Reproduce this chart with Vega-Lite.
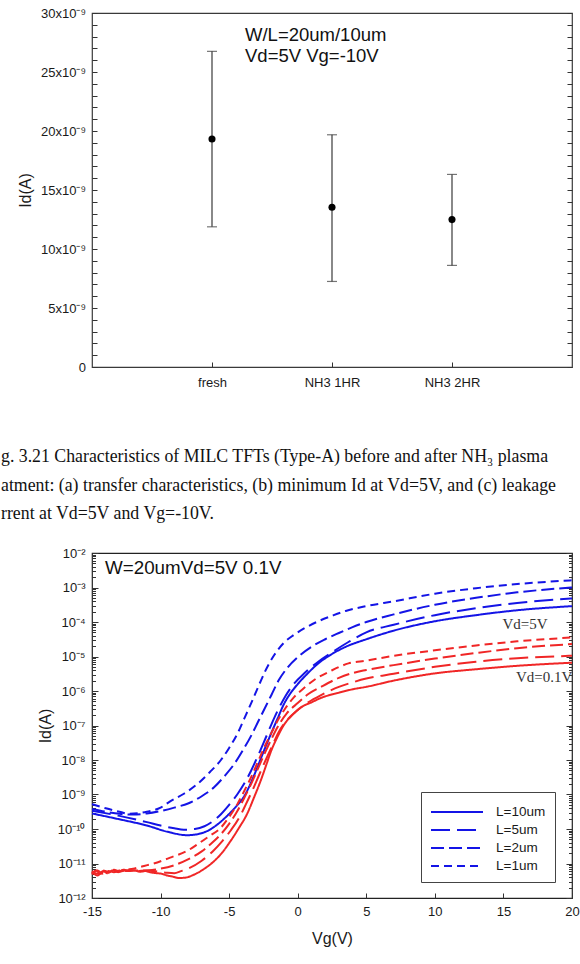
{
  "$schema": "https://vega.github.io/schema/vega-lite/v6.json",
  "background": "white",
  "padding": {"left": 0, "top": 6, "right": 0, "bottom": 0},
  "spacing": 57,
  "config": {
    "font": "Liberation Sans",
    "axis": {
      "labelFont": "Liberation Sans",
      "labelFontSize": 13,
      "labelColor": "#1a1a1a",
      "titleFont": "Liberation Sans",
      "titleFontSize": 16,
      "titleFontWeight": "normal",
      "titleColor": "#1a1a1a",
      "tickColor": "#333",
      "tickWidth": 1,
      "domain": false,
      "grid": false,
      "labelOverlap": false
    }
  },
  "datasets": {
    "leakage": [
      {"group": "fresh", "mean": 1.932e-8, "low": 1.188e-8, "high": 2.675e-8},
      {"group": "NH3 1HR", "mean": 1.354e-8, "low": 7.25e-9, "high": 1.968e-8},
      {"group": "NH3 2HR", "mean": 1.249e-8, "low": 8.61e-9, "high": 1.632e-8}
    ],
    "curves": [
      {"Vd": "5V", "L": "L=10um", "Vg": -15, "Id": 2.82e-10},
      {"Vd": "5V", "L": "L=10um", "Vg": -13, "Id": 1.91e-10},
      {"Vd": "5V", "L": "L=10um", "Vg": -11, "Id": 1.26e-10},
      {"Vd": "5V", "L": "L=10um", "Vg": -9.5, "Id": 8.32e-11},
      {"Vd": "5V", "L": "L=10um", "Vg": -8.05, "Id": 6.61e-11},
      {"Vd": "5V", "L": "L=10um", "Vg": -7.3, "Id": 7.08e-11},
      {"Vd": "5V", "L": "L=10um", "Vg": -6.6, "Id": 8.71e-11},
      {"Vd": "5V", "L": "L=10um", "Vg": -5.8, "Id": 1.41e-10},
      {"Vd": "5V", "L": "L=10um", "Vg": -5.1, "Id": 2.51e-10},
      {"Vd": "5V", "L": "L=10um", "Vg": -4.5, "Id": 4.47e-10},
      {"Vd": "5V", "L": "L=10um", "Vg": -3.9, "Id": 8.91e-10},
      {"Vd": "5V", "L": "L=10um", "Vg": -3.4, "Id": 2.24e-9},
      {"Vd": "5V", "L": "L=10um", "Vg": -2.93, "Id": 6.31e-9},
      {"Vd": "5V", "L": "L=10um", "Vg": -2.45, "Id": 1.91e-8},
      {"Vd": "5V", "L": "L=10um", "Vg": -1.95, "Id": 5.75e-8},
      {"Vd": "5V", "L": "L=10um", "Vg": -1.45, "Id": 1.66e-7},
      {"Vd": "5V", "L": "L=10um", "Vg": -0.98, "Id": 4.37e-7},
      {"Vd": "5V", "L": "L=10um", "Vg": -0.5, "Id": 8.91e-7},
      {"Vd": "5V", "L": "L=10um", "Vg": 0, "Id": 1.58e-6},
      {"Vd": "5V", "L": "L=10um", "Vg": 0.7, "Id": 3.16e-6},
      {"Vd": "5V", "L": "L=10um", "Vg": 1.5, "Id": 6.31e-6},
      {"Vd": "5V", "L": "L=10um", "Vg": 2.4, "Id": 1.12e-5},
      {"Vd": "5V", "L": "L=10um", "Vg": 3.5, "Id": 1.91e-5},
      {"Vd": "5V", "L": "L=10um", "Vg": 5, "Id": 3.16e-5},
      {"Vd": "5V", "L": "L=10um", "Vg": 7, "Id": 5.62e-5},
      {"Vd": "5V", "L": "L=10um", "Vg": 10, "Id": 1.05e-4},
      {"Vd": "5V", "L": "L=10um", "Vg": 13, "Id": 1.58e-4},
      {"Vd": "5V", "L": "L=10um", "Vg": 16, "Id": 2.19e-4},
      {"Vd": "5V", "L": "L=10um", "Vg": 20, "Id": 2.88e-4},

      {"Vd": "5V", "L": "L=5um", "Vg": -15, "Id": 3.39e-10},
      {"Vd": "5V", "L": "L=5um", "Vg": -13, "Id": 2.40e-10},
      {"Vd": "5V", "L": "L=5um", "Vg": -11, "Id": 1.58e-10},
      {"Vd": "5V", "L": "L=5um", "Vg": -10, "Id": 1.26e-10},
      {"Vd": "5V", "L": "L=5um", "Vg": -9, "Id": 1.05e-10},
      {"Vd": "5V", "L": "L=5um", "Vg": -8.3, "Id": 9.55e-11},
      {"Vd": "5V", "L": "L=5um", "Vg": -7.5, "Id": 1.00e-10},
      {"Vd": "5V", "L": "L=5um", "Vg": -6.8, "Id": 1.20e-10},
      {"Vd": "5V", "L": "L=5um", "Vg": -6.2, "Id": 1.66e-10},
      {"Vd": "5V", "L": "L=5um", "Vg": -5.6, "Id": 2.69e-10},
      {"Vd": "5V", "L": "L=5um", "Vg": -5, "Id": 5.01e-10},
      {"Vd": "5V", "L": "L=5um", "Vg": -4.4, "Id": 1.02e-9},
      {"Vd": "5V", "L": "L=5um", "Vg": -3.9, "Id": 2.09e-9},
      {"Vd": "5V", "L": "L=5um", "Vg": -3.4, "Id": 4.90e-9},
      {"Vd": "5V", "L": "L=5um", "Vg": -2.9, "Id": 1.32e-8},
      {"Vd": "5V", "L": "L=5um", "Vg": -2.4, "Id": 3.80e-8},
      {"Vd": "5V", "L": "L=5um", "Vg": -1.9, "Id": 1.12e-7},
      {"Vd": "5V", "L": "L=5um", "Vg": -1.45, "Id": 2.75e-7},
      {"Vd": "5V", "L": "L=5um", "Vg": -0.9, "Id": 7.08e-7},
      {"Vd": "5V", "L": "L=5um", "Vg": -0.25, "Id": 1.66e-6},
      {"Vd": "5V", "L": "L=5um", "Vg": 0.5, "Id": 3.31e-6},
      {"Vd": "5V", "L": "L=5um", "Vg": 1.5, "Id": 7.08e-6},
      {"Vd": "5V", "L": "L=5um", "Vg": 2.5, "Id": 1.32e-5},
      {"Vd": "5V", "L": "L=5um", "Vg": 3.7, "Id": 2.63e-5},
      {"Vd": "5V", "L": "L=5um", "Vg": 5, "Id": 5.01e-5},
      {"Vd": "5V", "L": "L=5um", "Vg": 7, "Id": 8.32e-5},
      {"Vd": "5V", "L": "L=5um", "Vg": 10, "Id": 1.58e-4},
      {"Vd": "5V", "L": "L=5um", "Vg": 13, "Id": 2.51e-4},
      {"Vd": "5V", "L": "L=5um", "Vg": 16, "Id": 3.55e-4},
      {"Vd": "5V", "L": "L=5um", "Vg": 20, "Id": 4.79e-4},

      {"Vd": "5V", "L": "L=2um", "Vg": -15, "Id": 3.80e-10},
      {"Vd": "5V", "L": "L=2um", "Vg": -14, "Id": 3.16e-10},
      {"Vd": "5V", "L": "L=2um", "Vg": -13, "Id": 2.75e-10},
      {"Vd": "5V", "L": "L=2um", "Vg": -12, "Id": 2.63e-10},
      {"Vd": "5V", "L": "L=2um", "Vg": -11, "Id": 2.82e-10},
      {"Vd": "5V", "L": "L=2um", "Vg": -10, "Id": 3.31e-10},
      {"Vd": "5V", "L": "L=2um", "Vg": -9, "Id": 4.17e-10},
      {"Vd": "5V", "L": "L=2um", "Vg": -8, "Id": 5.50e-10},
      {"Vd": "5V", "L": "L=2um", "Vg": -7, "Id": 8.91e-10},
      {"Vd": "5V", "L": "L=2um", "Vg": -6.1, "Id": 1.62e-9},
      {"Vd": "5V", "L": "L=2um", "Vg": -5.3, "Id": 3.55e-9},
      {"Vd": "5V", "L": "L=2um", "Vg": -4.6, "Id": 7.94e-9},
      {"Vd": "5V", "L": "L=2um", "Vg": -4, "Id": 1.91e-8},
      {"Vd": "5V", "L": "L=2um", "Vg": -3.4, "Id": 5.01e-8},
      {"Vd": "5V", "L": "L=2um", "Vg": -2.9, "Id": 1.26e-7},
      {"Vd": "5V", "L": "L=2um", "Vg": -2.4, "Id": 3.16e-7},
      {"Vd": "5V", "L": "L=2um", "Vg": -1.9, "Id": 7.94e-7},
      {"Vd": "5V", "L": "L=2um", "Vg": -1.4, "Id": 2.00e-6},
      {"Vd": "5V", "L": "L=2um", "Vg": -0.8, "Id": 4.47e-6},
      {"Vd": "5V", "L": "L=2um", "Vg": 0, "Id": 9.55e-6},
      {"Vd": "5V", "L": "L=2um", "Vg": 1, "Id": 1.91e-5},
      {"Vd": "5V", "L": "L=2um", "Vg": 2, "Id": 3.16e-5},
      {"Vd": "5V", "L": "L=2um", "Vg": 3, "Id": 4.79e-5},
      {"Vd": "5V", "L": "L=2um", "Vg": 4, "Id": 7.08e-5},
      {"Vd": "5V", "L": "L=2um", "Vg": 5, "Id": 1.00e-4},
      {"Vd": "5V", "L": "L=2um", "Vg": 7, "Id": 1.66e-4},
      {"Vd": "5V", "L": "L=2um", "Vg": 10, "Id": 3.16e-4},
      {"Vd": "5V", "L": "L=2um", "Vg": 13, "Id": 5.01e-4},
      {"Vd": "5V", "L": "L=2um", "Vg": 16, "Id": 7.24e-4},
      {"Vd": "5V", "L": "L=2um", "Vg": 20, "Id": 1.00e-3},

      {"Vd": "5V", "L": "L=1um", "Vg": -15, "Id": 5.25e-10},
      {"Vd": "5V", "L": "L=1um", "Vg": -14, "Id": 3.98e-10},
      {"Vd": "5V", "L": "L=1um", "Vg": -13, "Id": 3.16e-10},
      {"Vd": "5V", "L": "L=1um", "Vg": -12.3, "Id": 2.75e-10},
      {"Vd": "5V", "L": "L=1um", "Vg": -11, "Id": 3.16e-10},
      {"Vd": "5V", "L": "L=1um", "Vg": -10, "Id": 4.17e-10},
      {"Vd": "5V", "L": "L=1um", "Vg": -9.3, "Id": 6.31e-10},
      {"Vd": "5V", "L": "L=1um", "Vg": -8.3, "Id": 1.05e-9},
      {"Vd": "5V", "L": "L=1um", "Vg": -7.3, "Id": 2.04e-9},
      {"Vd": "5V", "L": "L=1um", "Vg": -6.4, "Id": 4.47e-9},
      {"Vd": "5V", "L": "L=1um", "Vg": -5.6, "Id": 1.00e-8},
      {"Vd": "5V", "L": "L=1um", "Vg": -5, "Id": 2.24e-8},
      {"Vd": "5V", "L": "L=1um", "Vg": -4.4, "Id": 5.75e-8},
      {"Vd": "5V", "L": "L=1um", "Vg": -3.9, "Id": 1.58e-7},
      {"Vd": "5V", "L": "L=1um", "Vg": -3.4, "Id": 4.37e-7},
      {"Vd": "5V", "L": "L=1um", "Vg": -2.9, "Id": 1.26e-6},
      {"Vd": "5V", "L": "L=1um", "Vg": -2.4, "Id": 3.55e-6},
      {"Vd": "5V", "L": "L=1um", "Vg": -1.7, "Id": 1.12e-5},
      {"Vd": "5V", "L": "L=1um", "Vg": -1, "Id": 2.51e-5},
      {"Vd": "5V", "L": "L=1um", "Vg": -0.3, "Id": 4.17e-5},
      {"Vd": "5V", "L": "L=1um", "Vg": 0.5, "Id": 6.61e-5},
      {"Vd": "5V", "L": "L=1um", "Vg": 1.5, "Id": 1.05e-4},
      {"Vd": "5V", "L": "L=1um", "Vg": 2.5, "Id": 1.51e-4},
      {"Vd": "5V", "L": "L=1um", "Vg": 3.5, "Id": 2.09e-4},
      {"Vd": "5V", "L": "L=1um", "Vg": 5, "Id": 2.88e-4},
      {"Vd": "5V", "L": "L=1um", "Vg": 7, "Id": 3.98e-4},
      {"Vd": "5V", "L": "L=1um", "Vg": 10, "Id": 6.61e-4},
      {"Vd": "5V", "L": "L=1um", "Vg": 13, "Id": 9.55e-4},
      {"Vd": "5V", "L": "L=1um", "Vg": 16, "Id": 1.26e-3},
      {"Vd": "5V", "L": "L=1um", "Vg": 20, "Id": 1.62e-3},

      {"Vd": "0.1V", "L": "L=10um", "Vg": -15, "Id": 4.79e-12},
      {"Vd": "0.1V", "L": "L=10um", "Vg": -14.7, "Id": 6.31e-12},
      {"Vd": "0.1V", "L": "L=10um", "Vg": -14.4, "Id": 5.01e-12},
      {"Vd": "0.1V", "L": "L=10um", "Vg": -14.1, "Id": 6.03e-12},
      {"Vd": "0.1V", "L": "L=10um", "Vg": -13.8, "Id": 5.37e-12},
      {"Vd": "0.1V", "L": "L=10um", "Vg": -13.5, "Id": 6.31e-12},
      {"Vd": "0.1V", "L": "L=10um", "Vg": -13.1, "Id": 5.62e-12},
      {"Vd": "0.1V", "L": "L=10um", "Vg": -12.7, "Id": 6.61e-12},
      {"Vd": "0.1V", "L": "L=10um", "Vg": -12.3, "Id": 6.03e-12},
      {"Vd": "0.1V", "L": "L=10um", "Vg": -11.9, "Id": 6.31e-12},
      {"Vd": "0.1V", "L": "L=10um", "Vg": -11.5, "Id": 5.75e-12},
      {"Vd": "0.1V", "L": "L=10um", "Vg": -11.1, "Id": 6.03e-12},
      {"Vd": "0.1V", "L": "L=10um", "Vg": -10.7, "Id": 5.50e-12},
      {"Vd": "0.1V", "L": "L=10um", "Vg": -10.3, "Id": 5.25e-12},
      {"Vd": "0.1V", "L": "L=10um", "Vg": -9.9, "Id": 5.01e-12},
      {"Vd": "0.1V", "L": "L=10um", "Vg": -9.5, "Id": 4.47e-12},
      {"Vd": "0.1V", "L": "L=10um", "Vg": -9.1, "Id": 4.17e-12},
      {"Vd": "0.1V", "L": "L=10um", "Vg": -8.7, "Id": 3.80e-12},
      {"Vd": "0.1V", "L": "L=10um", "Vg": -8.2, "Id": 3.89e-12},
      {"Vd": "0.1V", "L": "L=10um", "Vg": -7.6, "Id": 4.68e-12},
      {"Vd": "0.1V", "L": "L=10um", "Vg": -6.8, "Id": 7.08e-12},
      {"Vd": "0.1V", "L": "L=10um", "Vg": -6.1, "Id": 1.17e-11},
      {"Vd": "0.1V", "L": "L=10um", "Vg": -5.5, "Id": 2.09e-11},
      {"Vd": "0.1V", "L": "L=10um", "Vg": -4.9, "Id": 4.47e-11},
      {"Vd": "0.1V", "L": "L=10um", "Vg": -4.3, "Id": 1.05e-10},
      {"Vd": "0.1V", "L": "L=10um", "Vg": -3.7, "Id": 2.69e-10},
      {"Vd": "0.1V", "L": "L=10um", "Vg": -3.2, "Id": 7.94e-10},
      {"Vd": "0.1V", "L": "L=10um", "Vg": -2.7, "Id": 2.51e-9},
      {"Vd": "0.1V", "L": "L=10um", "Vg": -2.3, "Id": 7.08e-9},
      {"Vd": "0.1V", "L": "L=10um", "Vg": -1.95, "Id": 1.78e-8},
      {"Vd": "0.1V", "L": "L=10um", "Vg": -1.5, "Id": 4.47e-8},
      {"Vd": "0.1V", "L": "L=10um", "Vg": -1, "Id": 1.05e-7},
      {"Vd": "0.1V", "L": "L=10um", "Vg": -0.4, "Id": 2.00e-7},
      {"Vd": "0.1V", "L": "L=10um", "Vg": 0.3, "Id": 3.47e-7},
      {"Vd": "0.1V", "L": "L=10um", "Vg": 1, "Id": 4.68e-7},
      {"Vd": "0.1V", "L": "L=10um", "Vg": 1.7, "Id": 6.31e-7},
      {"Vd": "0.1V", "L": "L=10um", "Vg": 3, "Id": 8.91e-7},
      {"Vd": "0.1V", "L": "L=10um", "Vg": 4, "Id": 1.12e-6},
      {"Vd": "0.1V", "L": "L=10um", "Vg": 5, "Id": 1.32e-6},
      {"Vd": "0.1V", "L": "L=10um", "Vg": 7, "Id": 2.00e-6},
      {"Vd": "0.1V", "L": "L=10um", "Vg": 10, "Id": 3.24e-6},
      {"Vd": "0.1V", "L": "L=10um", "Vg": 13, "Id": 4.27e-6},
      {"Vd": "0.1V", "L": "L=10um", "Vg": 16, "Id": 5.37e-6},
      {"Vd": "0.1V", "L": "L=10um", "Vg": 20, "Id": 6.61e-6},

      {"Vd": "0.1V", "L": "L=5um", "Vg": -15, "Id": 5.62e-12},
      {"Vd": "0.1V", "L": "L=5um", "Vg": -14.6, "Id": 4.47e-12},
      {"Vd": "0.1V", "L": "L=5um", "Vg": -14.2, "Id": 6.03e-12},
      {"Vd": "0.1V", "L": "L=5um", "Vg": -13.8, "Id": 5.01e-12},
      {"Vd": "0.1V", "L": "L=5um", "Vg": -13.4, "Id": 6.61e-12},
      {"Vd": "0.1V", "L": "L=5um", "Vg": -13, "Id": 5.75e-12},
      {"Vd": "0.1V", "L": "L=5um", "Vg": -12.6, "Id": 6.31e-12},
      {"Vd": "0.1V", "L": "L=5um", "Vg": -12.2, "Id": 6.46e-12},
      {"Vd": "0.1V", "L": "L=5um", "Vg": -11.8, "Id": 5.89e-12},
      {"Vd": "0.1V", "L": "L=5um", "Vg": -11.4, "Id": 6.17e-12},
      {"Vd": "0.1V", "L": "L=5um", "Vg": -11, "Id": 6.31e-12},
      {"Vd": "0.1V", "L": "L=5um", "Vg": -10.5, "Id": 6.03e-12},
      {"Vd": "0.1V", "L": "L=5um", "Vg": -10, "Id": 5.62e-12},
      {"Vd": "0.1V", "L": "L=5um", "Vg": -9.5, "Id": 5.37e-12},
      {"Vd": "0.1V", "L": "L=5um", "Vg": -9, "Id": 5.25e-12},
      {"Vd": "0.1V", "L": "L=5um", "Vg": -8.5, "Id": 6.03e-12},
      {"Vd": "0.1V", "L": "L=5um", "Vg": -8, "Id": 7.08e-12},
      {"Vd": "0.1V", "L": "L=5um", "Vg": -7, "Id": 1.20e-11},
      {"Vd": "0.1V", "L": "L=5um", "Vg": -6.2, "Id": 2.24e-11},
      {"Vd": "0.1V", "L": "L=5um", "Vg": -5.5, "Id": 4.47e-11},
      {"Vd": "0.1V", "L": "L=5um", "Vg": -4.9, "Id": 8.91e-11},
      {"Vd": "0.1V", "L": "L=5um", "Vg": -4.3, "Id": 2.00e-10},
      {"Vd": "0.1V", "L": "L=5um", "Vg": -3.8, "Id": 5.01e-10},
      {"Vd": "0.1V", "L": "L=5um", "Vg": -3.3, "Id": 1.32e-9},
      {"Vd": "0.1V", "L": "L=5um", "Vg": -2.8, "Id": 3.80e-9},
      {"Vd": "0.1V", "L": "L=5um", "Vg": -2.3, "Id": 1.07e-8},
      {"Vd": "0.1V", "L": "L=5um", "Vg": -1.85, "Id": 2.63e-8},
      {"Vd": "0.1V", "L": "L=5um", "Vg": -1.4, "Id": 6.31e-8},
      {"Vd": "0.1V", "L": "L=5um", "Vg": -0.8, "Id": 1.41e-7},
      {"Vd": "0.1V", "L": "L=5um", "Vg": 0, "Id": 2.82e-7},
      {"Vd": "0.1V", "L": "L=5um", "Vg": 0.8, "Id": 4.79e-7},
      {"Vd": "0.1V", "L": "L=5um", "Vg": 1.7, "Id": 7.59e-7},
      {"Vd": "0.1V", "L": "L=5um", "Vg": 3, "Id": 1.32e-6},
      {"Vd": "0.1V", "L": "L=5um", "Vg": 4, "Id": 1.78e-6},
      {"Vd": "0.1V", "L": "L=5um", "Vg": 5, "Id": 2.29e-6},
      {"Vd": "0.1V", "L": "L=5um", "Vg": 7, "Id": 3.16e-6},
      {"Vd": "0.1V", "L": "L=5um", "Vg": 10, "Id": 5.01e-6},
      {"Vd": "0.1V", "L": "L=5um", "Vg": 13, "Id": 7.08e-6},
      {"Vd": "0.1V", "L": "L=5um", "Vg": 16, "Id": 8.91e-6},
      {"Vd": "0.1V", "L": "L=5um", "Vg": 20, "Id": 1.05e-5},

      {"Vd": "0.1V", "L": "L=2um", "Vg": -15, "Id": 5.25e-12},
      {"Vd": "0.1V", "L": "L=2um", "Vg": -14.6, "Id": 6.31e-12},
      {"Vd": "0.1V", "L": "L=2um", "Vg": -14.2, "Id": 5.01e-12},
      {"Vd": "0.1V", "L": "L=2um", "Vg": -13.8, "Id": 6.03e-12},
      {"Vd": "0.1V", "L": "L=2um", "Vg": -13.4, "Id": 5.62e-12},
      {"Vd": "0.1V", "L": "L=2um", "Vg": -13, "Id": 6.31e-12},
      {"Vd": "0.1V", "L": "L=2um", "Vg": -12.5, "Id": 6.03e-12},
      {"Vd": "0.1V", "L": "L=2um", "Vg": -12, "Id": 6.31e-12},
      {"Vd": "0.1V", "L": "L=2um", "Vg": -11.5, "Id": 6.31e-12},
      {"Vd": "0.1V", "L": "L=2um", "Vg": -11, "Id": 6.31e-12},
      {"Vd": "0.1V", "L": "L=2um", "Vg": -10.5, "Id": 6.61e-12},
      {"Vd": "0.1V", "L": "L=2um", "Vg": -10, "Id": 7.08e-12},
      {"Vd": "0.1V", "L": "L=2um", "Vg": -9, "Id": 8.91e-12},
      {"Vd": "0.1V", "L": "L=2um", "Vg": -8, "Id": 1.32e-11},
      {"Vd": "0.1V", "L": "L=2um", "Vg": -7, "Id": 2.24e-11},
      {"Vd": "0.1V", "L": "L=2um", "Vg": -6.3, "Id": 3.80e-11},
      {"Vd": "0.1V", "L": "L=2um", "Vg": -5.6, "Id": 7.08e-11},
      {"Vd": "0.1V", "L": "L=2um", "Vg": -5, "Id": 1.41e-10},
      {"Vd": "0.1V", "L": "L=2um", "Vg": -4.4, "Id": 3.31e-10},
      {"Vd": "0.1V", "L": "L=2um", "Vg": -3.9, "Id": 7.94e-10},
      {"Vd": "0.1V", "L": "L=2um", "Vg": -3.4, "Id": 2.00e-9},
      {"Vd": "0.1V", "L": "L=2um", "Vg": -2.9, "Id": 5.62e-9},
      {"Vd": "0.1V", "L": "L=2um", "Vg": -2.4, "Id": 1.58e-8},
      {"Vd": "0.1V", "L": "L=2um", "Vg": -1.9, "Id": 4.17e-8},
      {"Vd": "0.1V", "L": "L=2um", "Vg": -1.4, "Id": 1.00e-7},
      {"Vd": "0.1V", "L": "L=2um", "Vg": -0.8, "Id": 2.24e-7},
      {"Vd": "0.1V", "L": "L=2um", "Vg": 0, "Id": 4.47e-7},
      {"Vd": "0.1V", "L": "L=2um", "Vg": 0.8, "Id": 8.32e-7},
      {"Vd": "0.1V", "L": "L=2um", "Vg": 1.7, "Id": 1.32e-6},
      {"Vd": "0.1V", "L": "L=2um", "Vg": 3, "Id": 2.40e-6},
      {"Vd": "0.1V", "L": "L=2um", "Vg": 4, "Id": 3.31e-6},
      {"Vd": "0.1V", "L": "L=2um", "Vg": 5, "Id": 4.07e-6},
      {"Vd": "0.1V", "L": "L=2um", "Vg": 7, "Id": 5.62e-6},
      {"Vd": "0.1V", "L": "L=2um", "Vg": 10, "Id": 8.71e-6},
      {"Vd": "0.1V", "L": "L=2um", "Vg": 13, "Id": 1.26e-5},
      {"Vd": "0.1V", "L": "L=2um", "Vg": 16, "Id": 1.74e-5},
      {"Vd": "0.1V", "L": "L=2um", "Vg": 20, "Id": 2.29e-5},

      {"Vd": "0.1V", "L": "L=1um", "Vg": -15, "Id": 6.03e-12},
      {"Vd": "0.1V", "L": "L=1um", "Vg": -14.6, "Id": 5.01e-12},
      {"Vd": "0.1V", "L": "L=1um", "Vg": -14.2, "Id": 6.31e-12},
      {"Vd": "0.1V", "L": "L=1um", "Vg": -13.8, "Id": 5.62e-12},
      {"Vd": "0.1V", "L": "L=1um", "Vg": -13.4, "Id": 6.31e-12},
      {"Vd": "0.1V", "L": "L=1um", "Vg": -13, "Id": 6.03e-12},
      {"Vd": "0.1V", "L": "L=1um", "Vg": -12.5, "Id": 6.61e-12},
      {"Vd": "0.1V", "L": "L=1um", "Vg": -12, "Id": 7.08e-12},
      {"Vd": "0.1V", "L": "L=1um", "Vg": -11.2, "Id": 8.51e-12},
      {"Vd": "0.1V", "L": "L=1um", "Vg": -10.5, "Id": 1.00e-11},
      {"Vd": "0.1V", "L": "L=1um", "Vg": -9.3, "Id": 1.48e-11},
      {"Vd": "0.1V", "L": "L=1um", "Vg": -8, "Id": 2.40e-11},
      {"Vd": "0.1V", "L": "L=1um", "Vg": -7.3, "Id": 3.63e-11},
      {"Vd": "0.1V", "L": "L=1um", "Vg": -6.5, "Id": 6.03e-11},
      {"Vd": "0.1V", "L": "L=1um", "Vg": -5.6, "Id": 1.10e-10},
      {"Vd": "0.1V", "L": "L=1um", "Vg": -5, "Id": 2.24e-10},
      {"Vd": "0.1V", "L": "L=1um", "Vg": -4.4, "Id": 5.25e-10},
      {"Vd": "0.1V", "L": "L=1um", "Vg": -3.9, "Id": 1.26e-9},
      {"Vd": "0.1V", "L": "L=1um", "Vg": -3.4, "Id": 3.16e-9},
      {"Vd": "0.1V", "L": "L=1um", "Vg": -2.9, "Id": 8.91e-9},
      {"Vd": "0.1V", "L": "L=1um", "Vg": -2.4, "Id": 2.51e-8},
      {"Vd": "0.1V", "L": "L=1um", "Vg": -1.9, "Id": 6.31e-8},
      {"Vd": "0.1V", "L": "L=1um", "Vg": -1.45, "Id": 1.41e-7},
      {"Vd": "0.1V", "L": "L=1um", "Vg": -0.9, "Id": 3.16e-7},
      {"Vd": "0.1V", "L": "L=1um", "Vg": -0.25, "Id": 6.76e-7},
      {"Vd": "0.1V", "L": "L=1um", "Vg": 0.5, "Id": 1.26e-6},
      {"Vd": "0.1V", "L": "L=1um", "Vg": 1.2, "Id": 2.09e-6},
      {"Vd": "0.1V", "L": "L=1um", "Vg": 2.4, "Id": 3.80e-6},
      {"Vd": "0.1V", "L": "L=1um", "Vg": 3.7, "Id": 6.31e-6},
      {"Vd": "0.1V", "L": "L=1um", "Vg": 5, "Id": 7.59e-6},
      {"Vd": "0.1V", "L": "L=1um", "Vg": 7, "Id": 1.05e-5},
      {"Vd": "0.1V", "L": "L=1um", "Vg": 10, "Id": 1.51e-5},
      {"Vd": "0.1V", "L": "L=1um", "Vg": 13, "Id": 2.09e-5},
      {"Vd": "0.1V", "L": "L=1um", "Vg": 16, "Id": 2.75e-5},
      {"Vd": "0.1V", "L": "L=1um", "Vg": 20, "Id": 3.55e-5}
    ]
  },
  "vconcat": [
    {
      "width": 480,
      "height": 354,
      "view": {"stroke": "#3a3a3a", "strokeWidth": 1.2},
      "encoding": {
        "x": {
          "field": "group",
          "type": "nominal",
          "sort": null,
          "scale": {"type": "point", "padding": 1},
          "axis": {"orient": "bottom", "title": null, "labelAngle": 0, "offset": -5, "tickSize": 5, "labelPadding": 9}
        }
      },
      "layer": [
        {
          "data": {"name": "leakage"},
          "mark": {
            "type": "errorbar",
            "color": "#3a3a3a",
            "rule": {"strokeWidth": 1.2},
            "ticks": {"size": 10, "thickness": 1.2}
          },
          "encoding": {
            "y": {
              "field": "low",
              "type": "quantitative",
              "scale": {"domain": [0, 3e-8], "nice": false, "zero": true},
              "axis": {
                "orient": "left",
                "title": "Id(A)",
                "titleX": -72,
                "titleBaseline": "middle",
                "offset": -5,
                "tickSize": 5,
                "labelPadding": 6.5,
                "values": [0, 1e-9, 2e-9, 3e-9, 4e-9, 5e-9, 6e-9, 7e-9, 8e-9, 9e-9, 1e-8, 1.1e-8, 1.2e-8, 1.3e-8, 1.4e-8, 1.5e-8, 1.6e-8, 1.7e-8, 1.8e-8, 1.9e-8, 2e-8, 2.1e-8, 2.2e-8, 2.3e-8, 2.4e-8, 2.5e-8, 2.6e-8, 2.7e-8, 2.8e-8, 2.9e-8, 3e-8],
                "labelExpr": "round(datum.value*1e9) % 5 != 0 ? '' : (round(datum.value*1e9) == 0 ? '0' : round(datum.value*1e9) + 'x10⁻⁹')"
              }
            },
            "y2": {"field": "high"}
          }
        },
        {
          "data": {"name": "leakage"},
          "mark": {"type": "point", "filled": true, "size": 50, "color": "black", "opacity": 1},
          "encoding": {
            "y": {
              "field": "mean",
              "type": "quantitative",
              "axis": {
                "orient": "right",
                "title": null,
                "labels": false,
                "offset": -5,
                "tickSize": 5,
                "values": [0, 1e-9, 2e-9, 3e-9, 4e-9, 5e-9, 6e-9, 7e-9, 8e-9, 9e-9, 1e-8, 1.1e-8, 1.2e-8, 1.3e-8, 1.4e-8, 1.5e-8, 1.6e-8, 1.7e-8, 1.8e-8, 1.9e-8, 2e-8, 2.1e-8, 2.2e-8, 2.3e-8, 2.4e-8, 2.5e-8, 2.6e-8, 2.7e-8, 2.8e-8, 2.9e-8, 3e-8]
              }
            }
          }
        },
        {
          "data": {"values": [{}]},
          "mark": {
            "type": "text",
            "text": ["W/L=20um/10um", "Vd=5V Vg=-10V"],
            "align": "left",
            "baseline": "top",
            "dx": 33,
            "fontSize": 18.5,
            "fontWeight": "normal",
            "lineHeight": 21,
            "font": "Liberation Sans",
            "color": "#111"
          },
          "encoding": {
            "x": {"datum": "fresh"},
            "y": {"datum": 2.89e-8, "axis": null}
          }
        }
      ],
      "resolve": {"axis": {"y": "independent"}}
    },
    {
      "width": 480,
      "height": 345,
      "view": {"stroke": "#222", "strokeWidth": 1.2},
      "title": {
        "text": [
          "g. 3.21 Characteristics of MILC TFTs (Type-A) before and after NH₃ plasma",
          "atment: (a) transfer characteristics, (b) minimum Id at Vd=5V, and (c) leakage",
          "rrent at Vd=5V and Vg=-10V."
        ],
        "anchor": "start",
        "frame": "group",
        "orient": "top",
        "dx": -91,
        "offset": 24,
        "font": "Liberation Serif",
        "fontSize": 17.8,
        "fontWeight": "normal",
        "lineHeight": 28.5,
        "color": "#111"
      },
      "layer": [
        {
          "data": {"name": "curves"},
          "mark": {"type": "line", "strokeWidth": 2, "interpolate": "monotone"},
          "encoding": {
            "x": {
              "field": "Vg",
              "type": "quantitative",
              "scale": {"domain": [-15, 20], "nice": false, "zero": false},
              "axis": {
                "title": "Vg(V)",
                "values": [-15, -10, -5, 0, 5, 10, 15, 20],
                "labelExpr": "(datum.value < 0 ? '-' : '') + abs(datum.value)",
                "offset": -5,
                "tickSize": 5,
                "labelPadding": 7.5,
                "labelFlush": false,
                "titlePadding": 12
              }
            },
            "y": {
              "field": "Id",
              "type": "quantitative",
              "scale": {"type": "log", "domain": [1e-12, 1e-2], "nice": false},
              "axis": {
                "orient": "left",
                "title": "Id(A)",
                "titleX": -53,
                "titleBaseline": "middle",
                "offset": -6,
                "tickSize": 6,
                "labelPadding": 7,
                "values": [1e-12, 1e-11, 1e-10, 1e-9, 1e-8, 1e-7, 1e-6, 1e-5, 1e-4, 1e-3, 1e-2],
                "labelExpr": "['10⁻¹²','10⁻¹¹','10⁻¹⁰','10⁻⁹','10⁻⁸','10⁻⁷','10⁻⁶','10⁻⁵','10⁻⁴','10⁻³','10⁻²'][round(log(datum.value)/LN10) + 12]"
              }
            },
            "color": {
              "field": "Vd",
              "type": "nominal",
              "scale": {"domain": ["5V", "0.1V"], "range": ["#1414e6", "#f02626"]},
              "legend": null
            },
            "strokeDash": {
              "field": "L",
              "type": "nominal",
              "scale": {
                "domain": ["L=10um", "L=5um", "L=2um", "L=1um"],
                "range": [[1, 0], [19, 7], [13, 5], [8, 5]]
              },
              "legend": {
                "title": null,
                "orient": "none",
                "legendX": 329,
                "legendY": 779,
                "symbolType": "M-2.6,0H2.6",
                "symbolSize": 400,
                "symbolStrokeWidth": 2,
                "symbolStrokeColor": "#1414e6",
                "symbolFillColor": "transparent",
                "symbolOffset": 16,
                "labelFont": "Liberation Sans",
                "labelFontSize": 13.5,
                "labelColor": "#1a1a1a",
                "labelOffset": 28,
                "rowPadding": 0,
                "padding": 9,
                "strokeColor": "#444",
                "fillColor": "white"
              }
            }
          }
        },
        {
          "data": {"values": [{}]},
          "mark": {"type": "text", "text": "W=20umVd=5V 0.1V", "align": "left", "baseline": "middle", "fontSize": 18.8, "font": "Liberation Sans", "color": "#111"},
          "encoding": {
            "x": {"datum": -14.05},
            "y": {
              "datum": 3.7e-3,
              "axis": {
                "orient": "right",
                "title": null,
                "labels": false,
                "offset": -6,
                "tickSize": 6,
                "values": [1e-12, 1e-11, 1e-10, 1e-9, 1e-8, 1e-7, 1e-6, 1e-5, 1e-4, 1e-3, 1e-2]
              }
            }
          }
        },
        {
          "data": {"values": [{}]},
          "mark": {"type": "text", "text": "Vd=5V", "align": "center", "baseline": "middle", "fontSize": 15, "font": "Liberation Serif", "color": "#333"},
          "encoding": {
            "x": {"datum": 16.58},
            "y": {
              "datum": 8.7e-5,
              "axis": {
                "orient": "left",
                "title": null,
                "labels": false,
                "offset": -3.5,
                "tickSize": 3.5,
                "values": [2e-12, 3e-12, 4e-12, 5e-12, 6e-12, 7e-12, 8e-12, 9e-12, 2e-11, 3e-11, 4e-11, 5e-11, 6e-11, 7e-11, 8e-11, 9e-11, 2e-10, 3e-10, 4e-10, 5e-10, 6e-10, 7e-10, 8e-10, 9e-10, 2e-9, 3e-9, 4e-9, 5e-9, 6e-9, 7e-9, 8e-9, 9e-9, 2e-8, 3e-8, 4e-8, 5e-8, 6e-8, 7e-8, 8e-8, 9e-8, 2e-7, 3e-7, 4e-7, 5e-7, 6e-7, 7e-7, 8e-7, 9e-7, 2e-6, 3e-6, 4e-6, 5e-6, 6e-6, 7e-6, 8e-6, 9e-6, 2e-5, 3e-5, 4e-5, 5e-5, 6e-5, 7e-5, 8e-5, 9e-5, 2e-4, 3e-4, 4e-4, 5e-4, 6e-4, 7e-4, 8e-4, 9e-4, 2e-3, 3e-3, 4e-3, 5e-3, 6e-3, 7e-3, 8e-3, 9e-3]
              }
            }
          }
        },
        {
          "data": {"values": [{}]},
          "mark": {"type": "text", "text": "Vd=0.1V", "align": "center", "baseline": "middle", "fontSize": 15, "font": "Liberation Serif", "color": "#333"},
          "encoding": {
            "x": {"datum": 17.97},
            "y": {
              "datum": 2.57e-6,
              "axis": {
                "orient": "right",
                "title": null,
                "labels": false,
                "offset": -3.5,
                "tickSize": 3.5,
                "values": [2e-12, 3e-12, 4e-12, 5e-12, 6e-12, 7e-12, 8e-12, 9e-12, 2e-11, 3e-11, 4e-11, 5e-11, 6e-11, 7e-11, 8e-11, 9e-11, 2e-10, 3e-10, 4e-10, 5e-10, 6e-10, 7e-10, 8e-10, 9e-10, 2e-9, 3e-9, 4e-9, 5e-9, 6e-9, 7e-9, 8e-9, 9e-9, 2e-8, 3e-8, 4e-8, 5e-8, 6e-8, 7e-8, 8e-8, 9e-8, 2e-7, 3e-7, 4e-7, 5e-7, 6e-7, 7e-7, 8e-7, 9e-7, 2e-6, 3e-6, 4e-6, 5e-6, 6e-6, 7e-6, 8e-6, 9e-6, 2e-5, 3e-5, 4e-5, 5e-5, 6e-5, 7e-5, 8e-5, 9e-5, 2e-4, 3e-4, 4e-4, 5e-4, 6e-4, 7e-4, 8e-4, 9e-4, 2e-3, 3e-3, 4e-3, 5e-3, 6e-3, 7e-3, 8e-3, 9e-3]
              }
            }
          }
        }
      ],
      "resolve": {"axis": {"y": "independent"}}
    }
  ]
}
